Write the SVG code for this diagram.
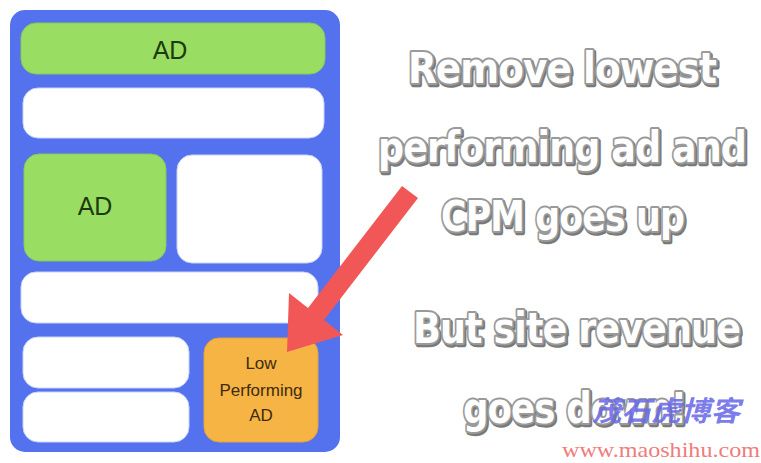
<svg xmlns="http://www.w3.org/2000/svg" width="761" height="463" viewBox="0 0 761 463">
<style>
.ad{fill:#99DE62;stroke:#86C957;stroke-width:1}
.wb{fill:#FFFFFF;stroke:#C9D3FA;stroke-width:1}
.adt{font-family:"Liberation Sans",Arial,sans-serif;font-size:25px;fill:#1E3B10;text-anchor:middle}
.lpt{font-family:"Liberation Sans",Arial,sans-serif;font-size:17px;fill:#3D2C0E;text-anchor:middle}
.big{font-family:"DejaVu Sans",sans-serif;font-weight:bold;font-size:42px;letter-spacing:-1px}
.sh{fill:#7A7A7A;stroke:#7A7A7A;stroke-width:4.5;stroke-linejoin:round}
.fg{fill:#FFFFFF;stroke:#9A9A9A;stroke-width:4;stroke-linejoin:round;paint-order:stroke}
</style>
<rect width="761" height="463" fill="#FFFFFF"/>
<g id="page">
<rect x="10" y="10" width="330" height="442" rx="15" fill="#5572EE"/>
</g>
<g id="ad-top">
<rect class="ad" x="21" y="23" width="304" height="51" rx="15"/>
<text class="adt" x="170" y="59">AD</text>
</g>
<g id="content-1"><rect class="wb" x="23" y="88" width="301" height="50" rx="15"/></g>
<g id="ad-mid">
<rect class="ad" x="24" y="154" width="142" height="107" rx="15"/>
<text class="adt" x="95" y="215">AD</text>
</g>
<g id="content-2"><rect class="wb" x="177" y="155" width="145" height="108" rx="15"/></g>
<g id="content-3"><rect class="wb" x="21" y="272" width="297" height="51" rx="15"/></g>
<g id="content-4"><rect class="wb" x="23" y="337" width="166" height="51" rx="15"/></g>
<g id="content-5"><rect class="wb" x="23" y="392" width="166" height="50" rx="15"/></g>
<g id="ad-low">
<rect x="204" y="338" width="114" height="104" rx="15" fill="#F6B445" stroke="#E3A23A" stroke-width="1"/>
<text class="lpt" x="261" y="369">Low</text>
<text class="lpt" x="261" y="396">Performing</text>
<text class="lpt" x="261" y="421">AD</text>
</g>
<g id="connectors">
<polygon points="402,186 418,198 324,320 343,335 287,352 289,293 308,308" fill="#F25757"/>
</g>
<g id="caption">
<g class="sh" transform="translate(1.5,1.5)">
<text class="big" x="408" y="83" textLength="308" lengthAdjust="spacingAndGlyphs">Remove lowest</text>
<text class="big" x="378" y="162" textLength="368" lengthAdjust="spacingAndGlyphs">performing ad and</text>
<text class="big" x="441" y="231" textLength="243" lengthAdjust="spacingAndGlyphs">CPM goes up</text>
<text class="big" x="413" y="343" textLength="327" lengthAdjust="spacingAndGlyphs">But site revenue</text>
<text class="big" x="463" y="423" textLength="223" lengthAdjust="spacingAndGlyphs">goes down!</text>
</g>
<g class="fg">
<text class="big" x="408" y="83" textLength="308" lengthAdjust="spacingAndGlyphs">Remove lowest</text>
<text class="big" x="378" y="162" textLength="368" lengthAdjust="spacingAndGlyphs">performing ad and</text>
<text class="big" x="441" y="231" textLength="243" lengthAdjust="spacingAndGlyphs">CPM goes up</text>
<text class="big" x="413" y="343" textLength="327" lengthAdjust="spacingAndGlyphs">But site revenue</text>
<text class="big" x="463" y="423" textLength="223" lengthAdjust="spacingAndGlyphs">goes down!</text>
</g>
</g>
<g id="watermark">
<text x="592" y="421" textLength="148" lengthAdjust="spacingAndGlyphs" font-family="'Noto Sans CJK SC',sans-serif" font-size="28" font-style="italic" font-weight="bold" fill="#6A6AE8" fill-opacity="0.9">茂石虎博客</text>
<text x="562" y="457" textLength="198" lengthAdjust="spacingAndGlyphs" font-family="'Liberation Serif',serif" font-size="21" fill="#F07C7C">www.maoshihu.com</text>
</g>
</svg>
